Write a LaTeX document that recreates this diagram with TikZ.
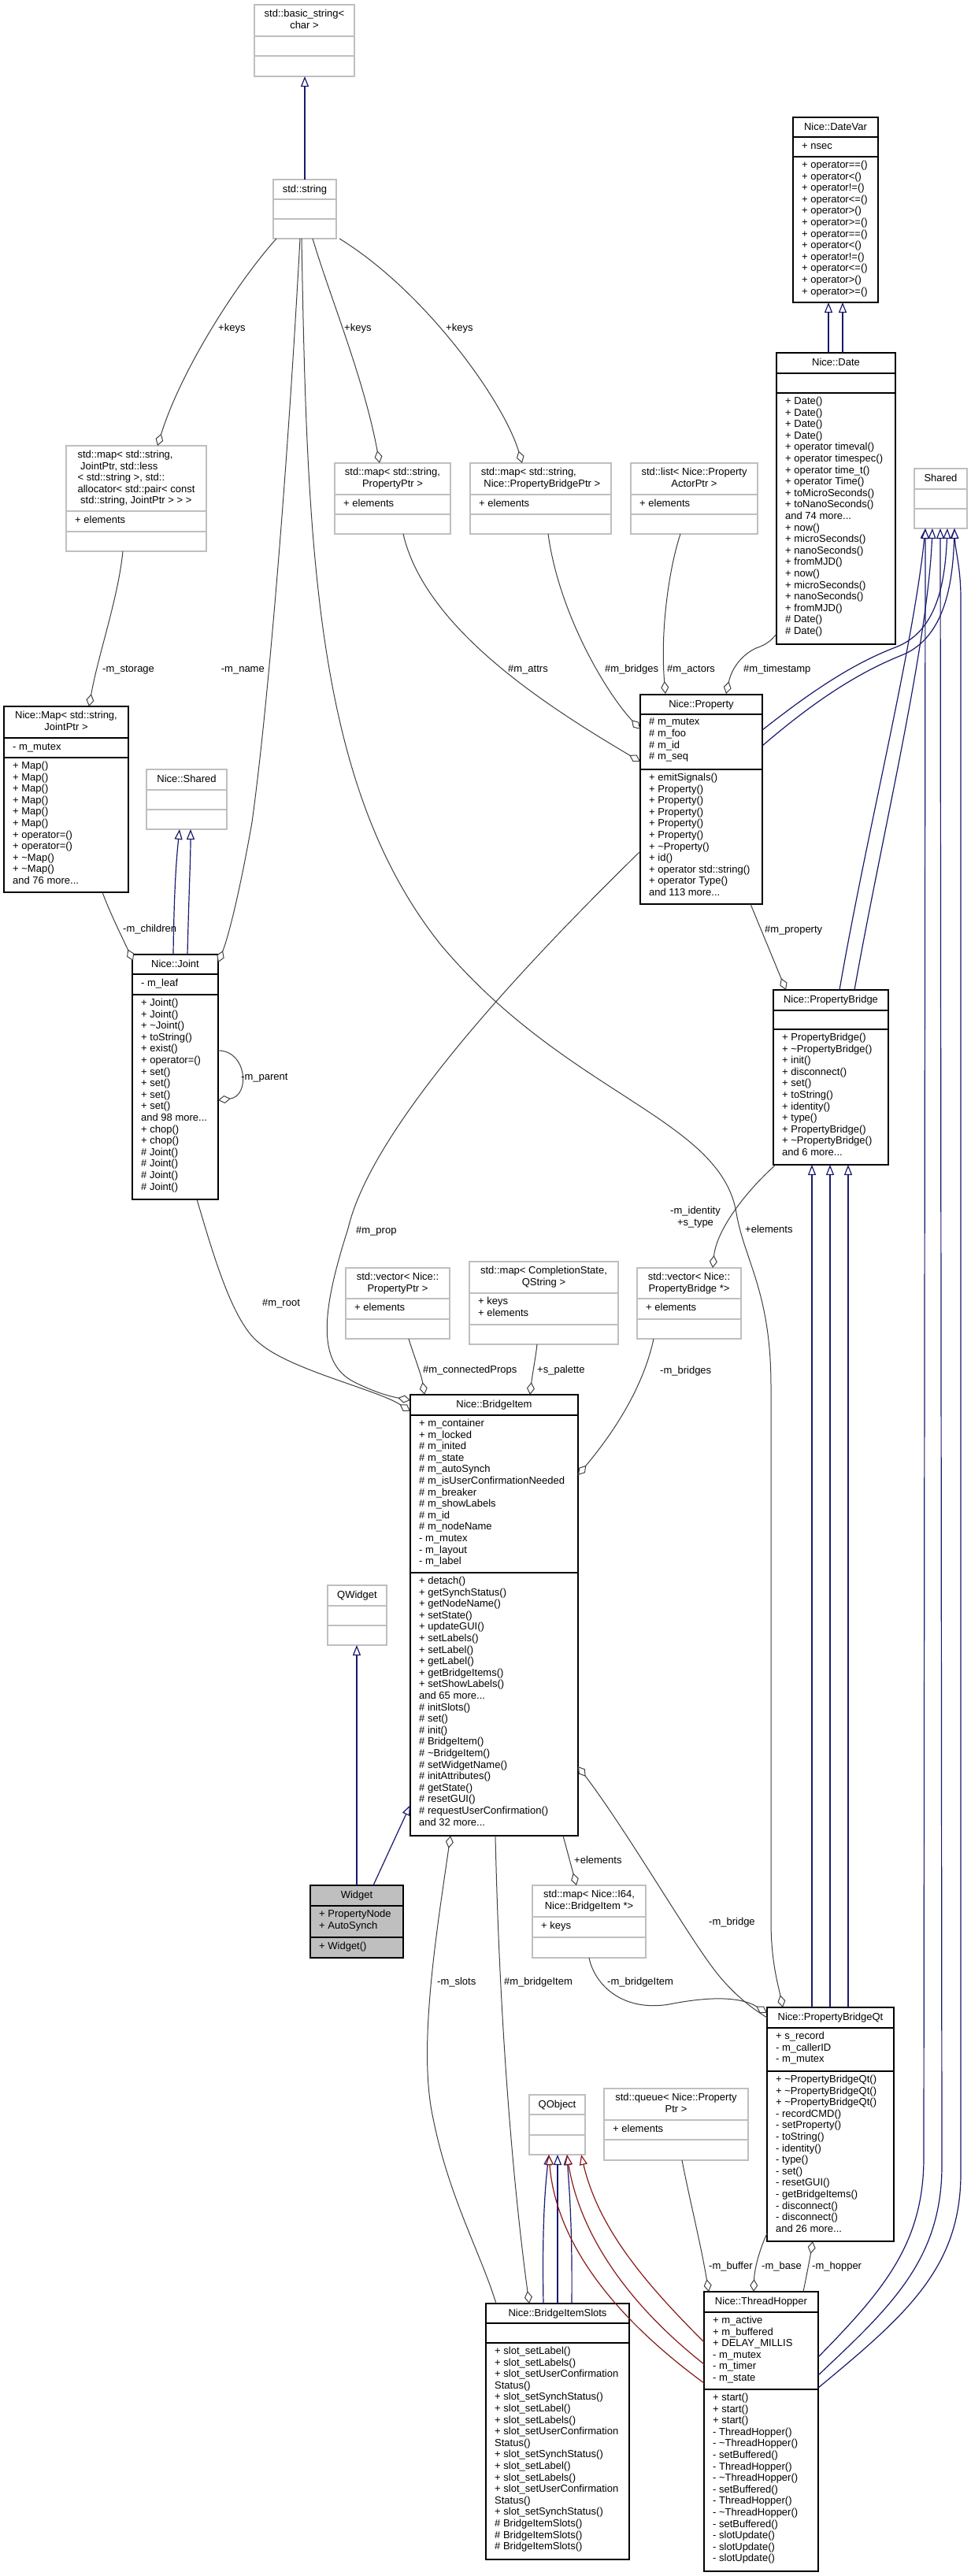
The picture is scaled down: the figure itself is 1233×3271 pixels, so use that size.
\documentclass[tikz,border=0pt]{standalone}
\usepackage{fontspec}
\setmainfont{Liberation Sans}
\usetikzlibrary{arrows.meta}
\definecolor{boxgray}{HTML}{BFBFBF}
\definecolor{edgegray}{HTML}{404040}
\definecolor{inhblue}{HTML}{191970}
\definecolor{inhred}{HTML}{8B1A1A}
\definecolor{wfill}{HTML}{BFBFBF}
\newcommand{\fs}{\fontsize{13}{14.6}\selectfont}
\newcommand{\tils}{\textasciitilde}
\newcommand{\ubox}[9]{%
  \node[#2, minimum width={#6-#4}, minimum height={#9-#5}] (#1) at (#4,#5) {};
  \draw[#3, line width=1.3pt] (#4,#7) -- (#6,#7) (#4,#8) -- (#6,#8);
}
\newcommand{\utitle}[4]{\node[ttl] (#1) at ({#2},{#3+5.8}) {#4};}
\newcommand{\umem}[4]{\node[mem] (#1) at ({#2+11},{#3+4.8}) {#4};}
\tikzset{
  gbox/.style={draw=boxgray, fill=white, line width=1.3pt, inner sep=0pt, outer sep=0pt, anchor=north west},
  bbox/.style={draw=black, fill=white, line width=1.3pt, inner sep=0pt, outer sep=0pt, anchor=north west},
  wbox/.style={draw=black, fill=wfill, line width=1.3pt, inner sep=0pt, outer sep=0pt, anchor=north west},
  ttl/.style={font=\fs, align=center, inner sep=0pt, anchor=north, execute at begin node=\strut},
  mem/.style={font=\fs, align=left, inner sep=0pt, anchor=north west, execute at begin node=\strut},
  lbl/.style={font=\fs, inner sep=0pt, anchor=base west},
  agg/.style={draw=edgegray, line width=1pt, {Diamond[fill=white,length=16pt,width=10pt]}-},
  inh/.style={draw=inhblue, line width=1.2pt, -{Triangle[fill=white,length=13pt,width=10pt]}},
  pinh/.style={draw=inhred, line width=1.2pt, -{Triangle[fill=white,length=13pt,width=10pt]}},
}
\begin{document}
\begin{tikzpicture}[x=1pt,y=-1pt]
\fill[white] (0,0) rectangle (1233,3271);
\useasboundingbox (0,0) rectangle (1233,3271);

% ---------------- boxes ----------------
\ubox{bstr}{gbox}{boxgray}{323}{6}{450}{46}{71}{97}
\utitle{bstr-t}{386.5}{6}{std::basic\_string<\\char >}

\ubox{str}{gbox}{boxgray}{347}{228}{427}{253}{278}{303}
\utitle{str-t}{387}{228}{std::string}

\ubox{dv}{bbox}{black}{1007}{149}{1115}{174}{199}{384}
\utitle{dv-t}{1061}{149}{Nice::DateVar}
\umem{dv-a}{1007}{174}{+ nsec}
\umem{dv-m}{1007}{199}{+ operator==()\\+ operator<()\\+ operator!=()\\+ operator<=()\\+ operator>()\\+ operator>=()\\+ operator==()\\+ operator<()\\+ operator!=()\\+ operator<=()\\+ operator>()\\+ operator>=()}

\ubox{jmap}{gbox}{boxgray}{84}{566}{262}{649}{675}{700}
\node[ttl, align=left] (jmap-t) at (173,571.8) {std::map< std::string,\\\hspace*{3.6pt}JointPtr, std::less\\< std::string >, std::\\allocator< std::pair< const\\\hspace*{3.6pt}std::string, JointPtr > > >};
\umem{jmap-a}{84}{649}{+ elements}

\ubox{pmap}{gbox}{boxgray}{425}{588}{572}{628}{653}{678}
\utitle{pmap-t}{498.5}{588}{std::map< std::string,\\PropertyPtr >}
\umem{pmap-a}{425}{628}{+ elements}

\ubox{bmap}{gbox}{boxgray}{597}{588}{776}{628}{653}{678}
\node[ttl, align=left] (bmap-t) at (686.5,593.8) {std::map< std::string,\\\hspace*{3.6pt}Nice::PropertyBridgePtr >};
\umem{bmap-a}{597}{628}{+ elements}

\ubox{alist}{gbox}{boxgray}{801}{588}{962}{628}{653}{678}
\utitle{alist-t}{881.5}{588}{std::list< Nice::Property\\ActorPtr >}
\umem{alist-a}{801}{628}{+ elements}

\ubox{date}{bbox}{black}{986}{448}{1137}{474}{499}{818}
\utitle{date-t}{1061.5}{448}{Nice::Date}
\umem{date-m}{986}{499}{+ Date()\\+ Date()\\+ Date()\\+ Date()\\+ operator timeval()\\+ operator timespec()\\+ operator time\_t()\\+ operator Time()\\+ toMicroSeconds()\\+ toNanoSeconds()\\and 74 more...\\+ now()\\+ microSeconds()\\+ nanoSeconds()\\+ fromMJD()\\+ now()\\+ microSeconds()\\+ nanoSeconds()\\+ fromMJD()\\\# Date()\\\# Date()}

\ubox{shr}{gbox}{boxgray}{1161}{595}{1228}{621}{646}{671}
\utitle{shr-t}{1194.5}{595}{Shared}

\ubox{nmap}{bbox}{black}{5}{897}{163}{937}{962}{1133}
\utitle{nmap-t}{84}{897}{Nice::Map< std::string,\\JointPtr >}
\umem{nmap-a}{5}{937}{- m\_mutex}
\umem{nmap-m}{5}{962}{+ Map()\\+ Map()\\+ Map()\\+ Map()\\+ Map()\\+ Map()\\+ operator=()\\+ operator=()\\+ \tils Map()\\+ \tils Map()\\and 76 more...}

\ubox{nshr}{gbox}{boxgray}{186}{977}{288}{1003}{1028}{1053}
\utitle{nshr-t}{237}{977}{Nice::Shared}

\ubox{prop}{bbox}{black}{813}{882}{968}{907}{977}{1148}
\utitle{prop-t}{890.5}{882}{Nice::Property}
\umem{prop-a}{813}{907}{\# m\_mutex\\\# m\_foo\\\# m\_id\\\# m\_seq}
\umem{prop-m}{813}{977}{+ emitSignals()\\+ Property()\\+ Property()\\+ Property()\\+ Property()\\+ Property()\\+ \tils Property()\\+ id()\\+ operator std::string()\\+ operator Type()\\and 113 more...}

\ubox{joint}{bbox}{black}{168}{1212}{277}{1237}{1263}{1523}
\utitle{joint-t}{222.5}{1212}{Nice::Joint}
\umem{joint-a}{168}{1237}{- m\_leaf}
\umem{joint-m}{168}{1263}{+ Joint()\\+ Joint()\\+ \tils Joint()\\+ toString()\\+ exist()\\+ operator=()\\+ set()\\+ set()\\+ set()\\+ set()\\and 98 more...\\+ chop()\\+ chop()\\\# Joint()\\\# Joint()\\\# Joint()\\\# Joint()}

\ubox{pb}{bbox}{black}{982}{1257}{1128}{1283}{1307}{1479}
\utitle{pb-t}{1055}{1257}{Nice::PropertyBridge}
\umem{pb-m}{982}{1307}{+ PropertyBridge()\\+ \tils PropertyBridge()\\+ init()\\+ disconnect()\\+ set()\\+ toString()\\+ identity()\\+ type()\\+ PropertyBridge()\\+ \tils PropertyBridge()\\and 6 more...}

\ubox{vpp}{gbox}{boxgray}{439}{1610}{571}{1649}{1675}{1700}
\utitle{vpp-t}{505}{1610}{std::vector< Nice::\\PropertyPtr >}
\umem{vpp-a}{439}{1649}{+ elements}

\ubox{csm}{gbox}{boxgray}{596}{1602}{785}{1642}{1682}{1707}
\utitle{csm-t}{690.5}{1602}{std::map< CompletionState,\\QString >}
\umem{csm-a}{596}{1642}{+ keys\\+ elements}

\ubox{vpb}{gbox}{boxgray}{809}{1610}{941}{1649}{1675}{1700}
\utitle{vpb-t}{875}{1610}{std::vector< Nice::\\PropertyBridge *>}
\umem{vpb-a}{809}{1649}{+ elements}

\ubox{bi}{bbox}{black}{521}{1771}{734}{1797}{1997}{2331}
\utitle{bi-t}{627.5}{1771}{Nice::BridgeItem}
\umem{bi-a}{521}{1797}{+ m\_container\\+ m\_locked\\\# m\_inited\\\# m\_state\\\# m\_autoSynch\\\# m\_isUserConfirmationNeeded\\\# m\_breaker\\\# m\_showLabels\\\# m\_id\\\# m\_nodeName\\- m\_mutex\\- m\_layout\\- m\_label}
\umem{bi-m}{521}{1997}{+ detach()\\+ getSynchStatus()\\+ getNodeName()\\+ setState()\\+ updateGUI()\\+ setLabels()\\+ setLabel()\\+ getLabel()\\+ getBridgeItems()\\+ setShowLabels()\\and 65 more...\\\# initSlots()\\\# set()\\\# init()\\\# BridgeItem()\\\# \tils BridgeItem()\\\# setWidgetName()\\\# initAttributes()\\\# getState()\\\# resetGUI()\\\# requestUserConfirmation()\\and 32 more...}

\ubox{qw}{gbox}{boxgray}{416}{2013}{491}{2039}{2064}{2089}
\utitle{qw-t}{453.5}{2013}{QWidget}

\ubox{wid}{wbox}{black}{394}{2394}{512}{2420}{2460}{2486}
\utitle{wid-t}{453}{2394}{Widget}
\umem{wid-a}{394}{2420}{+ PropertyNode\\+ AutoSynch}
\umem{wid-m}{394}{2460}{+ Widget()}

\ubox{imap}{gbox}{boxgray}{676}{2394}{820}{2434}{2460}{2486}
\utitle{imap-t}{748}{2394}{std::map< Nice::I64,\\Nice::BridgeItem *>}
\umem{imap-a}{676}{2434}{+ keys}

\ubox{qo}{gbox}{boxgray}{672}{2660}{743}{2685}{2711}{2736}
\utitle{qo-t}{707.5}{2660}{QObject}

\ubox{que}{gbox}{boxgray}{767}{2652}{950}{2692}{2717}{2743}
\utitle{que-t}{858.5}{2652}{std::queue< Nice::Property\\Ptr >}
\umem{que-a}{767}{2692}{+ elements}

\ubox{pbq}{bbox}{black}{974}{2549}{1135}{2575}{2630}{2846}
\utitle{pbq-t}{1054.5}{2549}{Nice::PropertyBridgeQt}
\umem{pbq-a}{974}{2575}{+ s\_record\\- m\_callerID\\- m\_mutex}
\umem{pbq-m}{974}{2630}{+ \tils PropertyBridgeQt()\\+ \tils PropertyBridgeQt()\\+ \tils PropertyBridgeQt()\\- recordCMD()\\- setProperty()\\- toString()\\- identity()\\- type()\\- set()\\- resetGUI()\\- getBridgeItems()\\- disconnect()\\- disconnect()\\and 26 more...}

\ubox{bis}{bbox}{black}{617}{2925}{799}{2950}{2975}{3250}
\utitle{bis-t}{708}{2925}{Nice::BridgeItemSlots}
\umem{bis-m}{617}{2975}{+ slot\_setLabel()\\+ slot\_setLabels()\\+ slot\_setUserConfirmation\\Status()\\+ slot\_setSynchStatus()\\+ slot\_setLabel()\\+ slot\_setLabels()\\+ slot\_setUserConfirmation\\Status()\\+ slot\_setSynchStatus()\\+ slot\_setLabel()\\+ slot\_setLabels()\\+ slot\_setUserConfirmation\\Status()\\+ slot\_setSynchStatus()\\\# BridgeItemSlots()\\\# BridgeItemSlots()\\\# BridgeItemSlots()}

\ubox{th}{bbox}{black}{894}{2910}{1039}{2936}{3034}{3265}
\utitle{th-t}{966.5}{2910}{Nice::ThreadHopper}
\umem{th-a}{894}{2936}{+ m\_active\\+ m\_buffered\\+ DELAY\_MILLIS\\- m\_mutex\\- m\_timer\\- m\_state}
\umem{th-m}{894}{3034}{+ start()\\+ start()\\+ start()\\- ThreadHopper()\\- \tils ThreadHopper()\\- setBuffered()\\- ThreadHopper()\\- \tils ThreadHopper()\\- setBuffered()\\- ThreadHopper()\\- \tils ThreadHopper()\\- setBuffered()\\- slotUpdate()\\- slotUpdate()\\- slotUpdate()}

% ---------------- ports ----------------
\coordinate (str-top) at (387,228);   \coordinate (bstr-bot) at (387,97);
\coordinate (date-i1) at (1052,448);  \coordinate (dv-i1) at (1052,384);
\coordinate (date-i2) at (1070,448);  \coordinate (dv-i2) at (1070,384);
\coordinate (joint-i1) at (220,1212); \coordinate (nshr-i1) at (228,1053);
\coordinate (joint-i2) at (238,1212); \coordinate (nshr-i2) at (242,1053);
\coordinate (wid-i1) at (453,2394);   \coordinate (qw-i) at (453,2089);
\coordinate (wid-i2) at (474,2394);   \coordinate (bi-i) at (521,2292);
\coordinate (pbq-i1) at (1031,2549);  \coordinate (pb-i1) at (1031,1479);
\coordinate (pbq-i2) at (1054,2549);  \coordinate (pb-i2) at (1054,1479);
\coordinate (pbq-i3) at (1077,2549);  \coordinate (pb-i3) at (1077,1479);
\coordinate (bis-i1) at (690,2925);   \coordinate (qo-i1) at (697,2736);
\coordinate (bis-i2) at (708,2925);   \coordinate (qo-i2) at (708,2736);
\coordinate (bis-i3) at (726,2925);   \coordinate (qo-i3) at (720,2736);
\coordinate (qo-r1) at (738,2736);
\coordinate (th-r1) at (894,2974); \coordinate (th-r2) at (894,3002); \coordinate (th-r3) at (894,3026);
\coordinate (shr-a1) at (1175,671); \coordinate (shr-a2) at (1184,671); \coordinate (shr-a3) at (1194,671);
\coordinate (shr-a4) at (1203,671); \coordinate (shr-a5) at (1212,671);
\coordinate (prop-s1) at (968,927); \coordinate (prop-s2) at (968,947);
\coordinate (pb-s1) at (1066,1257); \coordinate (pb-s2) at (1085,1257);
\coordinate (th-s1) at (1039,2993); \coordinate (th-s2) at (1039,3016); \coordinate (th-s3) at (1039,3032);

\coordinate (str-b1) at (351,303); \coordinate (str-b2) at (381,303); \coordinate (str-b3) at (383,303);
\coordinate (str-b4) at (397,303); \coordinate (str-b5) at (431,303);
\coordinate (jmap-top) at (200,566); \coordinate (jmap-bot) at (156,700);
\coordinate (pmap-top) at (482,588); \coordinate (pmap-bot) at (512,678);
\coordinate (bmap-top) at (663,588); \coordinate (bmap-bot) at (696,678);
\coordinate (alist-bot) at (864,678);
\coordinate (date-l) at (986,805);
\coordinate (nmap-top) at (113,897); \coordinate (nmap-bot) at (130,1133);
\coordinate (joint-tl) at (169,1220); \coordinate (joint-tr) at (277,1222);
\coordinate (joint-r1) at (277,1334); \coordinate (joint-r2) at (277,1397);
\coordinate (joint-bot) at (250,1523);
\coordinate (prop-l1) at (813,926); \coordinate (prop-l2) at (813,967); \coordinate (prop-l3) at (813,1081);
\coordinate (prop-t1) at (845,881); \coordinate (prop-t2) at (922,881);
\coordinate (prop-bot) at (953,1148);
\coordinate (pb-top) at (998,1257); \coordinate (pb-bl) at (985,1479);
\coordinate (vpp-bot) at (519,1700); \coordinate (csm-bot) at (682,1707);
\coordinate (vpb-top) at (905,1610); \coordinate (vpb-bot) at (830,1700);
\coordinate (bi-t1) at (539,1771); \coordinate (bi-t2) at (673,1771);
\coordinate (bi-l1) at (521,1778); \coordinate (bi-l2) at (521,1792);
\coordinate (bi-r1) at (734,1873); \coordinate (bi-r2) at (734,2243);
\coordinate (bi-b1) at (572,2331); \coordinate (bi-b2) at (629,2331); \coordinate (bi-b3) at (715,2331);
\coordinate (imap-top) at (732,2394); \coordinate (imap-bot) at (748,2486);
\coordinate (pbq-top) at (994,2549); \coordinate (pbq-l1) at (974,2556); \coordinate (pbq-l2) at (974,2562);
\coordinate (pbq-lb) at (974,2836); \coordinate (pbq-bot) at (1032,2846);
\coordinate (que-bot) at (866,2743);
\coordinate (bis-t1) at (630,2925); \coordinate (bis-t2) at (672,2925);
\coordinate (th-t1) at (900,2910); \coordinate (th-t2) at (957,2910); \coordinate (th-t3) at (1020,2910);

% ---------------- inheritance ----------------
\draw[inh] (str-top) -- (bstr-bot);
\draw[inh] (date-i1) -- (dv-i1);
\draw[inh] (date-i2) -- (dv-i2);
\draw[inh] (joint-i1) .. controls (221,1130) and (224,1090) .. (nshr-i1);
\draw[inh] (joint-i2) .. controls (240,1130) and (242,1090) .. (nshr-i2);
\draw[inh] (wid-i1) -- (qw-i);
\draw[inh] (wid-i2) -- (bi-i);
\draw[inh] (pbq-i1) -- (pb-i1);
\draw[inh] (pbq-i2) -- (pb-i2);
\draw[inh] (pbq-i3) -- (pb-i3);
\draw[inh] (bis-i1) .. controls (688,2820) and (693,2770) .. (qo-i1);
\draw[inh] (bis-i2) -- (qo-i2);
\draw[inh] (bis-i3) .. controls (727,2820) and (722,2770) .. (qo-i3);
\draw[pinh] (th-r1) .. controls (820,2900) and (760,2830) .. (qo-r1);
\draw[pinh] (th-r2) .. controls (790,2920) and (735,2830) .. (qo-i3);
\draw[pinh] (th-r3) .. controls (770,2935) and (705,2840) .. (qo-i1);
\draw[inh] (prop-s1) .. controls (1040,870) and (1090,840) .. (1137,822) .. controls (1190,802) and (1200,740) .. (shr-a4);
\draw[inh] (prop-s2) .. controls (1040,885) and (1095,852) .. (1145,832) .. controls (1200,810) and (1210,740) .. (shr-a5);
\draw[inh] (pb-s1) .. controls (1100,1060) and (1160,820) .. (shr-a1);
\draw[inh] (pb-s2) .. controls (1120,1060) and (1178,820) .. (shr-a2);
\draw[inh] (th-s1) .. controls (1120,2910) and (1173,2850) .. (1173,2740) -- (shr-a1);
\draw[inh] (th-s2) .. controls (1130,2930) and (1196,2870) .. (1196,2750) -- (shr-a3);
\draw[inh] (th-s3) .. controls (1150,2940) and (1220,2880) .. (1220,2760) -- (1220,760) .. controls (1220,720) and (1213,700) .. (shr-a5);

% ---------------- aggregation ----------------
\draw[agg] (jmap-top) .. controls (230,470) and (300,360) .. (str-b1);
\draw[agg] (pmap-top) .. controls (462,480) and (420,380) .. (str-b4);
\draw[agg] (bmap-top) .. controls (640,510) and (540,370) .. (str-b5);
\draw[agg] (nmap-top) .. controls (125,830) and (150,760) .. (jmap-bot);
\draw[agg] (joint-tr) .. controls (290,1190) and (305,1130) .. (320,1044) .. controls (340,900) and (365,600) .. (str-b2);
\draw[agg] (joint-tl) .. controls (155,1190) and (140,1160) .. (nmap-bot);
\draw[agg] (joint-r2) .. controls (318,1392) and (314,1334) .. (joint-r1);
\draw[agg] (prop-l2) .. controls (700,900) and (540,800) .. (pmap-bot);
\draw[agg] (prop-l1) .. controls (770,880) and (710,780) .. (bmap-bot);
\draw[agg] (prop-t1) .. controls (838,800) and (850,720) .. (alist-bot);
\draw[agg] (prop-t2) .. controls (930,845) and (945,830) .. (960,823) .. controls (975,818) and (980,812) .. (date-l);
\draw[agg] (pb-top) -- (prop-bot);
\draw[agg] (vpb-top) .. controls (910,1560) and (950,1510) .. (pb-bl);
\draw[agg] (pbq-top) .. controls (988,2520) and (979,2490) .. (979,2440) -- (979,1760) .. controls (979,1640) and (945,1600) .. (935,1540) .. controls (915,1420) and (720,1390) .. (560,1200) .. controls (400,1000) and (390,700) .. (str-b3);
\draw[agg] (bi-l1) .. controls (500,1774) and (480,1770) .. (450,1755) .. controls (400,1730) and (410,1660) .. (442,1560) .. controls (470,1440) and (640,1250) .. (prop-l3);
\draw[agg] (bi-l2) .. controls (480,1765) and (370,1740) .. (330,1706) .. controls (295,1680) and (270,1590) .. (joint-bot);
\draw[agg] (bi-t1) .. controls (535,1745) and (525,1720) .. (vpp-bot);
\draw[agg] (bi-t2) .. controls (676,1745) and (680,1725) .. (csm-bot);
\draw[agg] (bi-r1) .. controls (770,1830) and (815,1770) .. (vpb-bot);
\draw[agg] (imap-top) -- (bi-b3);
\draw[agg] (bi-r2) .. controls (800,2330) and (880,2470) .. (914,2510) .. controls (935,2535) and (955,2550) .. (pbq-l2);
\draw[agg] (pbq-l1) .. controls (940,2535) and (900,2535) .. (850,2545) .. controls (790,2555) and (755,2520) .. (imap-bot);
\draw[agg] (bi-b1) .. controls (555,2450) and (530,2600) .. (550,2690) .. controls (570,2790) and (610,2860) .. (bis-t1);
\draw[agg] (bis-t2) .. controls (655,2800) and (635,2600) .. (bi-b2);
\draw[agg] (th-t1) .. controls (890,2850) and (875,2790) .. (que-bot);
\draw[agg] (th-t2) .. controls (958,2880) and (965,2855) .. (pbq-lb);
\draw[agg] (pbq-bot) .. controls (1028,2870) and (1024,2890) .. (th-t3);

% ---------------- labels ----------------
\node[lbl] (l-k1) at (277,420.5) {+keys};
\node[lbl] (l-k2) at (437,420.5) {+keys};
\node[lbl] (l-k3) at (566,420.5) {+keys};
\node[lbl] (l-stor) at (130,853.5) {-m\_storage};
\node[lbl, anchor=base east] (l-name) at (336,853.5) {-m\_name};
\node[lbl] (l-attrs) at (645,853.5) {\#m\_attrs};
\node[lbl] (l-bridges) at (768,853.5) {\#m\_bridges};
\node[lbl] (l-actors) at (847,853.5) {\#m\_actors};
\node[lbl] (l-ts) at (944,853.5) {\#m\_timestamp};
\node[lbl] (l-child) at (156,1183.5) {-m\_children};
\node[lbl] (l-parent) at (306,1371.5) {-m\_parent};
\node[lbl] (l-property) at (971,1184.5) {\#m\_property};
\node[lbl] (l-prop) at (452,1566.5) {\#m\_prop};
\node[lbl] (l-root) at (333,1658.5) {\#m\_root};
\node[font=\fs, align=center, inner sep=0pt, anchor=north east, execute at begin node=\strut] (l-ident) at (915,1532) {-m\_identity\\+s\_type};
\node[lbl] (l-elem1) at (946,1565.5) {+elements};
\node[lbl] (l-cprops) at (537,1743.5) {\#m\_connectedProps};
\node[lbl] (l-pal) at (682,1743.5) {+s\_palette};
\node[lbl] (l-mbridges) at (838,1744.5) {-m\_bridges};
\node[lbl] (l-elem2) at (729,2366.5) {+elements};
\node[lbl] (l-bridge) at (900,2444.5) {-m\_bridge};
\node[lbl] (l-slots) at (555,2520.5) {-m\_slots};
\node[lbl] (l-bitem1) at (640,2520.5) {\#m\_bridgeItem};
\node[lbl] (l-bitem2) at (771,2520.5) {-m\_bridgeItem};
\node[lbl] (l-buf) at (900,2881.5) {-m\_buffer};
\node[lbl] (l-base) at (967,2881.5) {-m\_base};
\node[lbl] (l-hop) at (1031,2881.5) {-m\_hopper};
\end{tikzpicture}
\end{document}
